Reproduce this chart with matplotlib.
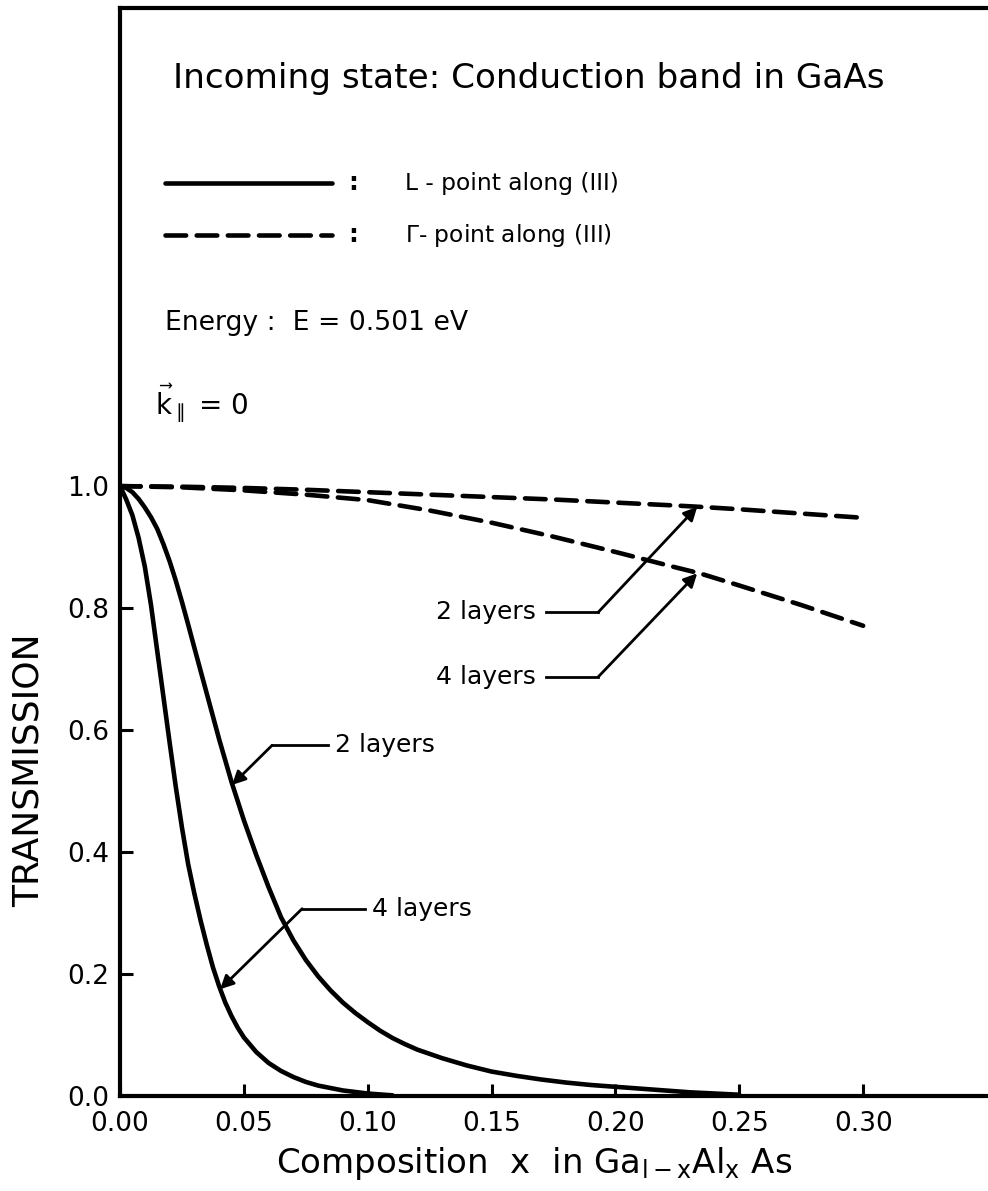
import matplotlib
matplotlib.use("Agg")
import matplotlib.pyplot as plt

# transmission through GaAs/GaAlAs layers, L-point (solid) and Gamma-point (dashed)
x_L2 = [0.0, 0.0025, 0.005, 0.0075, 0.01, 0.0125, 0.015, 0.0175, 0.02, 0.0225, 0.025,
        0.0275, 0.03, 0.035, 0.04, 0.045, 0.05, 0.055, 0.06, 0.065, 0.07, 0.075, 0.08,
        0.085, 0.09, 0.095, 0.10, 0.105, 0.11, 0.115, 0.12, 0.13, 0.14, 0.15, 0.16,
        0.17, 0.18, 0.19, 0.20, 0.21, 0.22, 0.23, 0.24, 0.25]
t_L2 = [1.0, 0.997, 0.99, 0.979, 0.965, 0.949, 0.93, 0.905, 0.877, 0.845, 0.81,
        0.773, 0.735, 0.66, 0.585, 0.515, 0.452, 0.395, 0.342, 0.293, 0.255, 0.223, 0.196,
        0.173, 0.153, 0.136, 0.121, 0.107, 0.095, 0.085, 0.076, 0.062, 0.05, 0.04, 0.033,
        0.027, 0.022, 0.018, 0.015, 0.012, 0.009, 0.006, 0.004, 0.002]

x_L4 = [0.0, 0.0025, 0.005, 0.0075, 0.01, 0.0125, 0.015, 0.0175, 0.02, 0.0225,
        0.025, 0.0275, 0.03, 0.0325, 0.035, 0.0375, 0.04, 0.0425, 0.045, 0.0475, 0.05,
        0.055, 0.06, 0.065, 0.07, 0.075, 0.08, 0.09, 0.10, 0.11]
t_L4 = [1.0, 0.978, 0.952, 0.915, 0.868, 0.805, 0.73, 0.655, 0.58, 0.507,
        0.44, 0.38, 0.332, 0.288, 0.248, 0.211, 0.18, 0.153, 0.131, 0.112, 0.096,
        0.072, 0.054, 0.041, 0.031, 0.023, 0.017, 0.009, 0.004, 0.001]

x_G = [0.0, 0.025, 0.05, 0.075, 0.10, 0.125, 0.15, 0.175, 0.20, 0.225, 0.234, 0.25,
       0.275, 0.30]
t_G2 = [1.0, 0.999, 0.997, 0.994, 0.99, 0.986, 0.982, 0.978, 0.973, 0.968, 0.966, 0.962,
        0.955, 0.948]
t_G4 = [1.0, 0.998, 0.993, 0.986, 0.977, 0.96, 0.94, 0.917, 0.892, 0.866, 0.857, 0.837,
        0.805, 0.771]

xticks = [0.0, 0.05, 0.10, 0.15, 0.20, 0.25, 0.30]
yticks = [0.0, 0.2, 0.4, 0.6, 0.8, 1.0]

plt.rcParams['font.family'] = ['DejaVu Sans']
plt.rcParams['mathtext.fontset'] = 'dejavusans'

fig = plt.figure(figsize=(9.88, 11.91), dpi=100)
ax = fig.add_axes([0.1215, 0.0798, 0.8775, 0.9135])

lw = 3.3
dash = (4.5, 2.3)
solid = dict(color='black', lw=lw, solid_capstyle='round', solid_joinstyle='round')
dashed = dict(color='black', lw=lw, ls=(0, dash), dash_capstyle='round',
              dash_joinstyle='round')
ax.plot(x_L2, t_L2, **solid)
ax.plot(x_L4, t_L4, **solid)
ax.plot(x_G, t_G2, **dashed)
ax.plot(x_G, t_G4, **dashed)

ax.set_xlim(0, 0.35)
ax.set_ylim(0, 1.784)
ax.spines['right'].set_visible(False)
for s in ['left', 'bottom', 'top']:
    ax.spines[s].set_linewidth(3.0)

ax.set_xticks(xticks)
ax.set_xticklabels(['%.2f' % v for v in xticks])
ax.set_yticks(yticks)
ax.set_yticklabels(['%.1f' % v for v in yticks])
ax.tick_params(direction='in', length=9, width=2.2, labelsize=19, top=False, right=False)
ax.tick_params(axis='x', pad=11)
ax.tick_params(axis='y', pad=8)

ax.set_xlabel(r'Composition  x  in Ga$_{\mathregular{l-x}}$Al$_{\mathregular{x}}$ As',
              fontsize=24.5, va='center')
ax.xaxis.set_label_coords(0.478, -0.0625)
ax.set_ylabel('TRANSMISSION', fontsize=26, va='center')
ax.yaxis.set_label_coords(-0.105, 0.299)

# header text and line-style key
ax.text(0.0214, 1.669, 'Incoming state: Conduction band in GaAs', fontsize=24.7,
        va='center', ha='left')
ax.plot([0.0182, 0.0856], [1.497, 1.497], **solid)
ax.plot([0.0182, 0.0856], [1.411, 1.411], **dashed)
ax.text(0.094, 1.497, ':', fontsize=18, va='center', ha='center', weight='bold')
ax.text(0.094, 1.411, ':', fontsize=18, va='center', ha='center', weight='bold')
ax.text(0.115, 1.497, 'L - point along (III)', fontsize=16.8, va='center', ha='left')
ax.text(0.115, 1.411, r'$\Gamma$- point along (III)', fontsize=16.8, va='center', ha='left')
ax.text(0.0182, 1.267, 'Energy :  E = 0.501 eV', fontsize=19.2, va='center', ha='left')
ax.text(0.0141, 1.136, r'$\vec{\mathrm{k}}_{\parallel}$ = 0', fontsize=20, va='center',
        ha='left')

# curve labels with leader lines
arrow = dict(arrowstyle='-|>', color='black', lw=2.0, mutation_scale=20,
             shrinkA=0, shrinkB=0)
labels = [
    # text, text anchor, leader start, corner, tip, ha
    ('2 layers', (0.168, 0.793), 0.172, (0.193, 0.793), (0.233, 0.966), 'right'),
    ('4 layers', (0.168, 0.687), 0.172, (0.193, 0.687), (0.233, 0.857), 'right'),
    ('2 layers', (0.0868, 0.575), 0.0840, (0.0614, 0.575), (0.0452, 0.51), 'left'),
    ('4 layers', (0.1018, 0.307), 0.0990, (0.0735, 0.307), (0.0404, 0.175), 'left'),
]
for txt, pos, x0, corner, tip, ha in labels:
    ax.text(pos[0], pos[1], txt, fontsize=18, va='center', ha=ha)
    ax.plot([x0, corner[0]], [corner[1], corner[1]], color='black', lw=2.0)
    ax.annotate('', xy=tip, xytext=corner, arrowprops=arrow)

fig.savefig('out.png', dpi=100)
